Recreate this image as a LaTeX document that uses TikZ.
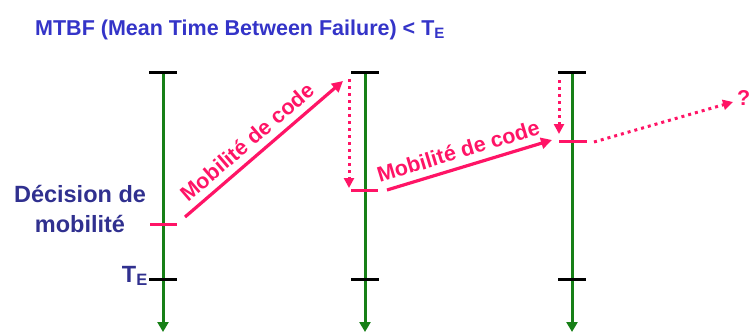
\documentclass[tikz,border=0pt]{standalone}
\usepackage{fontspec}
\setmainfont{Liberation Sans}
\usetikzlibrary{arrows.meta}
\definecolor{migr}{HTML}{FF1466}
\definecolor{timeline}{HTML}{178017}
\definecolor{titleblue}{HTML}{3434C8}
\definecolor{labelnavy}{HTML}{30308F}
\begin{document}
\begin{tikzpicture}[x=1pt,y=-1pt,
  bigtext/.style={font=\fontsize{21.5}{30}\selectfont\bfseries},
  sidetext/.style={font=\fontsize{23.5}{30}\selectfont\bfseries},
  axis/.style={timeline,line width=3pt,-{Triangle[length=10pt,width=11pt]}},
  bar/.style={black,line width=3pt},
  tick/.style={migr,line width=3pt},
  hop/.style={migr,line width=3.2pt,-{Triangle[length=11pt,width=11pt]}},
  wait/.style={migr,line width=3pt,dash pattern=on 3pt off 4pt,-{Triangle[length=10pt,width=10pt]}},
  hoplabel/.style={bigtext,text=migr,sloped,above,inner sep=0pt,yshift=7pt}]
\useasboundingbox (0,0) rectangle (749,332);

% title
\node[bigtext,text=titleblue,anchor=base west,inner sep=0pt] (title) at (35,35)
  {MTBF (Mean Time Between Failure) < T\textsubscript{E}};

% three execution timelines
\foreach \n/\x in {1/163,2/365,3/572}{
  \coordinate (top\n) at (\x,72);
  \coordinate (end\n) at (\x,332);
  \coordinate (te\n) at (\x,279);
  \draw[axis] (top\n) -- (end\n);
  \draw[bar] ([xshift=-14pt]top\n) -- ([xshift=14pt]top\n);
  \draw[bar] ([xshift=-14pt]te\n) -- ([xshift=14pt]te\n);
}

% side labels (base anchor sits on the last line)
\node[sidetext,text=labelnavy,align=center,inner sep=0pt,anchor=base] (decision) at (80,232)
  {Décision de\\mobilité};
\node[sidetext,text=labelnavy,anchor=base east,inner sep=0pt] (telabel) at (148,282)
  {T\textsubscript{E}};

% migration points on each timeline
\coordinate (d1) at (163,224);
\coordinate (d2) at (365,190);
\coordinate (d3) at (572,141);
\draw[tick] (150,224) -- (177,224);
\draw[tick] (351,190) -- (378,190);
\draw[tick] (559,141) -- (587,141);

% code mobility hops
\coordinate (h1s) at (185,217);
\coordinate (h1e) at (343,81);
\draw[hop] (h1s) -- node[hoplabel,pos=0.46] (lab1) {Mobilité de code} (h1e);
\coordinate (h2s) at (387,190);
\coordinate (h2e) at (552,140);
\draw[hop] (h2s) -- node[hoplabel,pos=0.46] (lab2) {Mobilité de code} (h2e);

% waiting on the destination before the next decision
\coordinate (w2s) at (349,79);
\coordinate (w2e) at (349,188);
\draw[wait] (w2s) -- (w2e);
\coordinate (w3s) at (559,80);
\coordinate (w3e) at (559,134);
\draw[wait] (w3s) -- (w3e);

% next hop unknown
\coordinate (h3s) at (594,142);
\coordinate (h3e) at (733,102);
\draw[wait] (h3s) -- (h3e);
\node[bigtext,text=migr,anchor=base west,inner sep=0pt] (unknown) at (737,105) {?};
\end{tikzpicture}
\end{document}
